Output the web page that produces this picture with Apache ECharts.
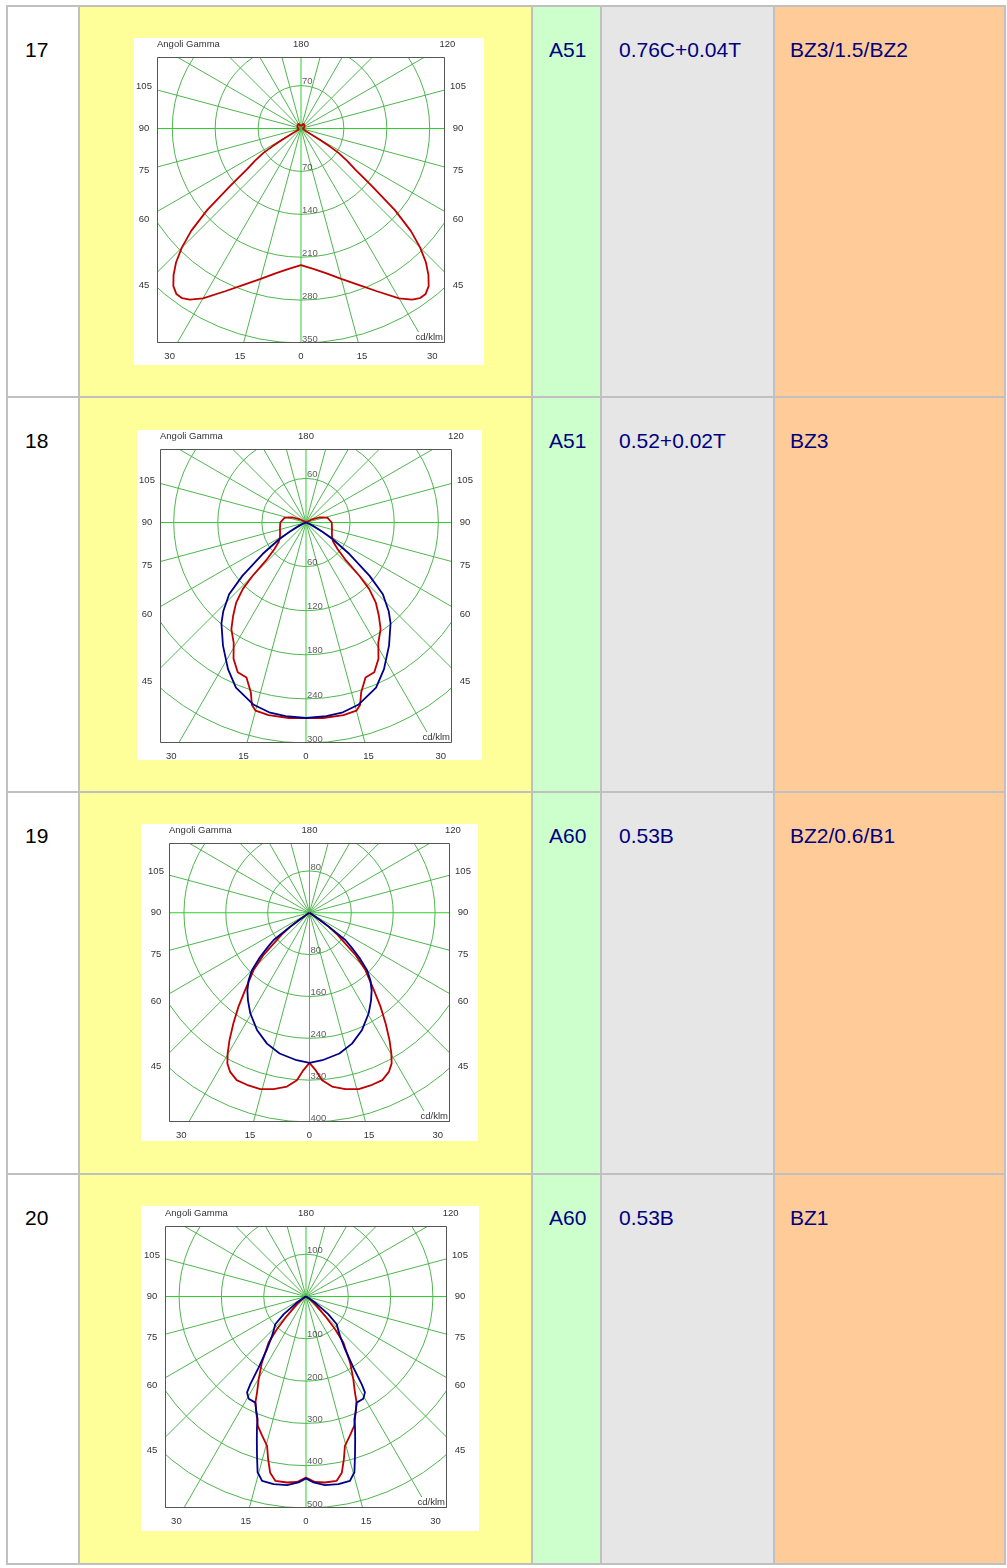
<!DOCTYPE html>
<html>
<head>
<meta charset="utf-8">
<script src="https://cdn.jsdelivr.net/npm/echarts@6/dist/echarts.min.js"></script>
<style>
  body { margin:0; background:#fff; width:1007px; height:1568px; position:relative; overflow:hidden;
         font-family:"Liberation Sans", Arial, sans-serif; }
  .abs { position:absolute; box-sizing:border-box; }
  .txt { position:absolute; font-size:21px; line-height:24px; white-space:nowrap; }
</style>
</head>
<body>
<script>
// ---------------- DATA ----------------
const rowNumbers = ['17', '18', '19', '20'];
const colCode   = ['A51', 'A51', 'A60', 'A60'];
const colFormula = ['0.76C+0.04T', '0.52+0.02T', '0.53B', '0.53B'];
const colClass  = ['BZ3/1.5/BZ2', 'BZ3', 'BZ2/0.6/B1', 'BZ1'];

// ring step (cd/klm) of each diagram
const ringSteps = [70, 60, 80, 100];
// gamma tick labels around the frame
const sideGammaLabels = [105, 90, 75, 60, 45];
const bottomGammaLabels = [-30, -15, 0, 15, 30];
const topGammaLabels = [180, 120];
const axisTitle = 'Angoli Gamma';
const unitLabel = 'cd/klm';

// diagram 17 (C0-C180, red)
const c17RedGamma = [0,5,10,15,20,25,30,33,35,37,39,41,43,45,47,49,51,53,55,57,58,59,60,62,66,75,90,105,120,135,150,165,180];
const c17RedCd    = [223,230,240,254,271,293,320,333,338,338,331,317,299,275,245,203,148,110,92,73,55,35,18,8,4,3,3,4,7,9,9,6,4];

// diagram 18
const c18RedGamma = [0,5,11,15,16.5,18,21,24.5,28,31,35,38,41,43.5,45,46.5,50,55,60,68,76,90,102,106,111,118,130,180];
const c18RedCd    = [266,267,267,265,259,243,226,224,210,191,177,161,145,125,103,75,56,45,41,38,36.5,35,30,25,19,8,2,0];
const c18BlueGamma = [0,6,11,16,23,28,34,40,43,47,50,54,58,61,64,68,75,90,180];
const c18BlueCd    = [266,265,263,258,244,226,202,179,165,143,113,73,43,25,12,5,2,0,0];

// diagram 19
const c19RedGamma = [0,2.2,4.3,7.4,11.5,15.6,20,23.5,26.5,28.6,30.2,32.1,34.5,37.1,39.8,44.3,47.4,50.1,52,54,54.5,55,58,65,90,180];
const c19RedCd    = [287,301,321,335,344,350,350,349,340,328,311,288,257,225,192,153,120,81,66,46,25,12,4,1,0,0];
const c19BlueGamma = [0,5,12,18,24,30.5,35,38.7,42,45,48,50.5,52.8,54,54.5,55,58,65,90,180];
const c19BlueCd    = [287,283,275,263,246,223,205,190,174,156,128,104,86,46,25,12,4,1,0,0];

// diagram 20
const c20RedGamma = [0,2.8,5.8,9.4,11.5,13.1,14.6,17.5,20.5,23.2,25.5,27,29.8,33.7,39.1,41.6,44.5,49.6,55,60,90,180];
const c20RedCd    = [428,439,442,442,425,395,365,345,326,298,278,255,225,188,140,103,64,28,8,2,0,0];
const c20BlueGamma = [0,2.3,5.75,9.8,13.4,15.4,17.1,19,20.5,21.5,23.5,25.5,29.3,31.6,32.4,33.7,36.5,40.8,43.3,47.9,51.6,56.3,60,65,90,180];
const c20BlueCd    = [430,440,448,450,448,431,394,357,331,312,295,278,277,266,246,202,155,123,112,98,67,26,8,2,0,0];

const diagrams = [
  { red: [c17RedGamma, c17RedCd] },
  { red: [c18RedGamma, c18RedCd], blue: [c18BlueGamma, c18BlueCd] },
  { red: [c19RedGamma, c19RedCd], blue: [c19BlueGamma, c19BlueCd] },
  { red: [c20RedGamma, c20RedCd], blue: [c20BlueGamma, c20BlueCd] }
];

// ---------------- LAYOUT / STYLE ----------------
const TABLE = { x:6, y:5, w:1000, h:1560, border:'#c0c0c0' };
const COLS = [
  { x:8,   w:70,  bg:'#ffffff' },
  { x:80,  w:451, bg:'#ffff99' },
  { x:533, w:67,  bg:'#ccffcc' },
  { x:602, w:171, bg:'#e6e6e6' },
  { x:775, w:229, bg:'#ffcc99' }
];
const ROWS = [ { y:7, h:389 }, { y:398, h:393 }, { y:793, h:380 }, { y:1175, h:388 } ];
const IMAGES = [
  { x:134, y:38,   w:350, h:327 },
  { x:137, y:430,  w:345, h:330 },
  { x:141, y:824,  w:337, h:317 },
  { x:141, y:1206, w:338, h:325 }
];
const BOXES = [
  { x:23, y:19, w:288, h:286 },
  { x:23, y:19, w:292, h:294 },
  { x:28, y:19, w:281, h:279 },
  { x:24, y:20, w:282, h:282 }
];
const GREEN = '#4fb64f', GREEN_AXIS = '#2ecf2e', RED = '#c00000', BLUE = '#000088';
const LABEL_COLOR = '#333333', FRAME_COLOR = '#555555';
const SMALL_FONT = '9.5px "Liberation Sans", Arial, sans-serif';
const TEXT_PAD_LEFT = 16, TEXT_PAD_TOP = 31;

// ---------------- TABLE ----------------
function addDiv(x, y, w, h, bg) {
  const d = document.createElement('div');
  d.className = 'abs';
  d.style.left = x + 'px'; d.style.top = y + 'px';
  d.style.width = w + 'px'; d.style.height = h + 'px';
  d.style.background = bg;
  document.body.appendChild(d);
  return d;
}
function addText(x, y, text, color) {
  const t = document.createElement('div');
  t.className = 'txt';
  t.style.left = x + 'px'; t.style.top = y + 'px'; t.style.color = color;
  t.textContent = text;
  document.body.appendChild(t);
}
addDiv(TABLE.x, TABLE.y, TABLE.w, TABLE.h, TABLE.border);
ROWS.forEach((r, ri) => {
  COLS.forEach(c => addDiv(c.x, r.y, c.w, r.h, c.bg));
  addText(COLS[0].x + TEXT_PAD_LEFT + 1, r.y + TEXT_PAD_TOP, rowNumbers[ri], '#000000');
  addText(COLS[2].x + TEXT_PAD_LEFT, r.y + TEXT_PAD_TOP, colCode[ri], '#000080');
  addText(COLS[3].x + TEXT_PAD_LEFT + 1, r.y + TEXT_PAD_TOP, colFormula[ri], '#000080');
  addText(COLS[4].x + TEXT_PAD_LEFT - 1, r.y + TEXT_PAD_TOP, colClass[ri], '#000080');
});

// ---------------- DIAGRAMS ----------------
// closed curve: right half (angle 360-gamma) then left half (angle gamma)
function loop(gamma, cd) {
  const pts = [];
  for (let i = gamma.length - 1; i >= 0; i--) pts.push([cd[i], 360 - gamma[i]]);
  for (let i = 0; i < gamma.length; i++) pts.push([cd[i], gamma[i]]);
  return pts;
}
function txt(x, y, text, align, valign, extra) {
  return Object.assign({
    type:'text', x:x, y:y, z:102, silent:true,
    style: Object.assign({ text:String(text), fill:LABEL_COLOR, font:SMALL_FONT,
      align:align, verticalAlign:valign, textAlign:align, textVerticalAlign:valign }, extra || {})
  });
}
const rad = d => d * Math.PI / 180;

diagrams.forEach((dg, i) => {
  const L = IMAGES[i], b = BOXES[i], step = ringSteps[i];
  const div = addDiv(L.x, L.y, L.w, L.h, '#ffffff');
  const chart = echarts.init(div, null, { renderer:'canvas', width:L.w, height:L.h });
  const cx = b.x + b.w / 2, cy = b.y + b.h / 4;
  const scale = b.h / (step * 5 * 4 / 3);
  const R = step * 8 * scale;
  const off = 13;
  const topY = b.y - off, botY = b.y + b.h + off;
  const sideD = b.w / 2 + off;

  const graphics = [
    { type:'rect', z:100, silent:true, shape:{ x:0, y:0, width:L.w, height:b.y }, style:{ fill:'#fff' } },
    { type:'rect', z:100, silent:true, shape:{ x:0, y:b.y + b.h, width:L.w, height:L.h - b.y - b.h }, style:{ fill:'#fff' } },
    { type:'rect', z:100, silent:true, shape:{ x:0, y:b.y, width:b.x, height:b.h }, style:{ fill:'#fff' } },
    { type:'rect', z:100, silent:true, shape:{ x:b.x + b.w, y:b.y, width:L.w - b.x - b.w, height:b.h }, style:{ fill:'#fff' } },
    { type:'rect', z:101, silent:true, shape:{ x:b.x + 0.5, y:b.y + 0.5, width:b.w - 1, height:b.h - 1 },
      style:{ fill:'none', stroke:FRAME_COLOR, lineWidth:1 } },
    txt(b.x, topY, axisTitle, 'left', 'middle')
  ];
  topGammaLabels.forEach(g => {
    graphics.push(txt(cx + (cy - topY) * Math.tan(rad(180 - g)), topY, g, 'center', 'middle'));
  });
  sideGammaLabels.forEach(g => {
    const y = cy + sideD * Math.cos(rad(g)) / Math.sin(rad(g));
    graphics.push(txt(b.x - off, y, g, 'center', 'middle'));
    graphics.push(txt(b.x + b.w + off, y, g, 'center', 'middle'));
  });
  bottomGammaLabels.forEach(g => {
    const x = cx + Math.sign(g) * (botY - cy) * Math.tan(rad(Math.abs(g)));
    graphics.push(txt(x, botY, Math.abs(g), 'center', 'middle'));
  });
  graphics.push(txt(b.x + b.w - 1, b.y + b.h - 1, unitLabel, 'right', 'bottom',
    { backgroundColor:'#ffffff', padding:[0, 1, 0, 1] }));

  const ringLabelData = [[step, 180]];
  for (let k = 1; k <= 5; k++) ringLabelData.push([step * k, 0]);

  const series = [];
  series.push({ type:'line', coordinateSystem:'polar', data:loop(dg.red[0], dg.red[1]),
    showSymbol:false, symbol:'none', smooth:false, silent:true, z:3,
    lineStyle:{ color:RED, width:1.8 } });
  if (dg.blue) series.push({ type:'line', coordinateSystem:'polar', data:loop(dg.blue[0], dg.blue[1]),
    showSymbol:false, symbol:'none', smooth:false, silent:true, z:4,
    lineStyle:{ color:BLUE, width:1.8 } });
  series.push({ type:'scatter', coordinateSystem:'polar', data:ringLabelData, symbolSize:0,
    itemStyle:{ color:'transparent' }, silent:true, z:5,
    label:{ show:true, position:[1, 1], align:'left', verticalAlign:'bottom',
      formatter: p => String(p.value[0]), color:LABEL_COLOR, fontSize:9.5,
      fontFamily:'"Liberation Sans", Arial, sans-serif' } });

  chart.setOption({
    animation:false,
    backgroundColor:'#ffffff',
    polar:{ center:[cx, cy], radius:[0, R] },
    angleAxis:{ type:'value', min:0, max:360, interval:15, startAngle:270, clockwise:true,
      axisLine:{ show:false }, axisTick:{ show:false }, axisLabel:{ show:false },
      splitLine:{ show:true, lineStyle:{ color:[GREEN_AXIS, GREEN, GREEN, GREEN, GREEN, GREEN], width:1 } } },
    radiusAxis:{ type:'value', min:0, max:step * 8, interval:step,
      axisLine:{ show:false }, axisTick:{ show:false }, axisLabel:{ show:false },
      splitLine:{ show:true, lineStyle:{ color:GREEN, width:1 } } },
    graphic:{ elements:graphics },
    series:series
  });
});
</script>
</body>
</html>
